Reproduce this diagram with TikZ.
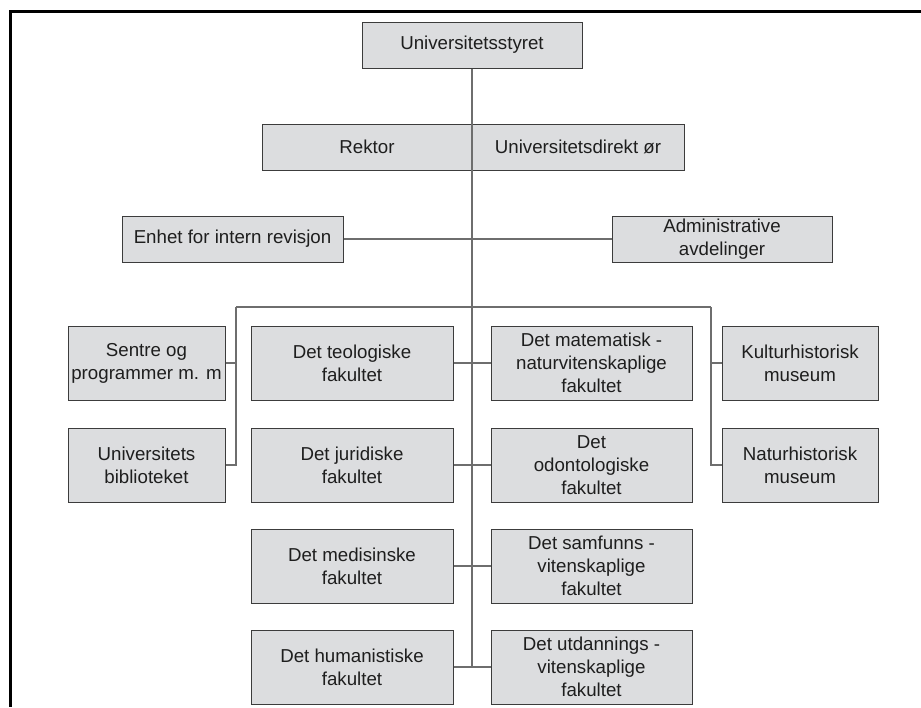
\documentclass[tikz,border=0pt]{standalone}
\usepackage{fontspec}
\setmainfont{Liberation Sans}
\definecolor{boxfill}{RGB}{220,221,223}
\definecolor{boxline}{RGB}{60,60,60}
\definecolor{conn}{RGB}{110,110,110}
\definecolor{txt}{RGB}{30,30,30}
\begin{document}
\begin{tikzpicture}[x=1pt,y=-1pt,
  orgbox/.style={draw=boxline, fill=boxfill, line width=1pt, inner sep=0pt,
    align=center, text=txt, font=\fontsize{18.7}{23}\selectfont},
  wide/.style={minimum height=46pt},
  tall/.style={minimum height=74pt},
  link/.style={draw=conn, line width=1.2pt}]
\useasboundingbox (0,0) rectangle (921,707);
% frame
\fill[black] (9,10) rectangle (12,707);
\fill[black] (9,10) rectangle (921,13);
% top levels
\node[orgbox, wide, minimum width=220pt] (us) at (472,45) {Universitetsstyret};
\node[orgbox, wide, minimum width=210pt] (rek) at (367,147) {Rektor};
\node[orgbox, wide, minimum width=212pt] (dir) at (578,147) {Universitetsdirekt ør};
\node[orgbox, wide, minimum width=221pt] (enh) at (232.5,239) {Enhet for intern revisjon};
\node[orgbox, wide, minimum width=220pt] (adm) at (722,239) {Administrative\\avdelinger};
% left column
\node[orgbox, tall, minimum width=157pt] (sen) at (146.5,363) {Sentre og\\programmer m. m};
\node[orgbox, tall, minimum width=157pt] (bib) at (146.5,465) {Universitets\\biblioteket};
% faculties left
\node[orgbox, tall, minimum width=202pt] (teo) at (352,363) {Det teologiske\\fakultet};
\node[orgbox, tall, minimum width=202pt] (jur) at (352,465) {Det juridiske\\fakultet};
\node[orgbox, tall, minimum width=202pt] (med) at (352,566) {Det medisinske\\fakultet};
\node[orgbox, tall, minimum width=202pt] (hum) at (352,667) {Det humanistiske\\fakultet};
% faculties right
\node[orgbox, tall, minimum width=201pt] (mat) at (591.5,363) {Det matematisk -\\naturvitenskaplige\\fakultet};
\node[orgbox, tall, minimum width=201pt] (odo) at (591.5,465) {Det\\odontologiske\\fakultet};
\node[orgbox, tall, minimum width=201pt] (sam) at (591.5,566) {Det samfunns -\\vitenskaplige\\fakultet};
\node[orgbox, tall, minimum width=201pt] (utd) at (591.5,667) {Det utdannings -\\vitenskaplige\\fakultet};
% museums
\node[orgbox, tall, minimum width=156pt] (kul) at (800,363) {Kulturhistorisk\\museum};
\node[orgbox, tall, minimum width=156pt] (nat) at (800,465) {Naturhistorisk\\museum};
% connectors
\coordinate (tend) at (472,667);
\coordinate (bl) at (236,307);
\coordinate (br) at (711,307);
\draw[link] (us.south) -- (tend);
\draw[link] (enh.east) -- (adm.west);
\draw[link] (bl) -- (br);
\draw[link] (bl) |- (bib.east);
\draw[link] (sen.east) -- (sen.east -| bl);
\draw[link] (br) |- (nat.west);
\draw[link] (kul.west) -- (kul.west -| br);
\draw[link] (teo.east) -- (mat.west);
\draw[link] (jur.east) -- (odo.west);
\draw[link] (med.east) -- (sam.west);
\draw[link] (hum.east) -- (utd.west);
\end{tikzpicture}
\end{document}
